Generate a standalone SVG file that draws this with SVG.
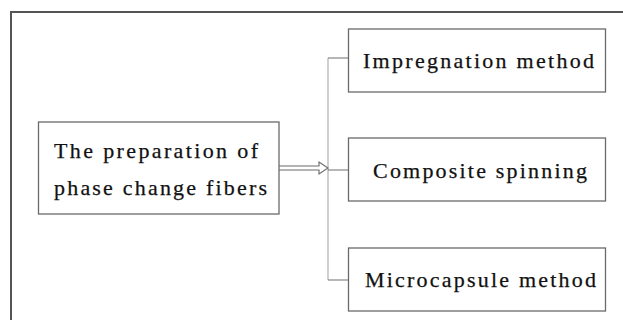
<svg xmlns="http://www.w3.org/2000/svg" width="623" height="320" viewBox="0 0 623 320">
<style>
.box{fill:#fff;stroke:#6a6a6a;stroke-width:1.3}
.t{font-family:"Liberation Serif","Times New Roman",serif;font-size:22px;fill:#111;stroke:#111;stroke-width:0.25}
.br{fill:none;stroke:#6e6e6e;stroke-width:1.2}
.vl{fill:none;stroke:#b0b0b0;stroke-width:1.2}
</style>
<rect x="0" y="0" width="623" height="320" fill="#fff"/>
<rect x="11" y="12" width="700" height="400" fill="none" stroke="#555" stroke-width="2"/>
<g id="connectors">
<path class="vl" d="M328,58 V280"/>
<path class="br" d="M328,58 H348 M328,170 H348 M328,280 H348"/>
<path d="M279,166 H319 V162 L328,168 L319,174 V170 H279" fill="#fff" stroke="#6a6a6a" stroke-width="1.1"/>
</g>
<g id="source">
<rect class="box" x="38.5" y="122" width="240.5" height="92"/>
<text class="t" x="54" y="158" textLength="204" lengthAdjust="spacing">The preparation of</text>
<text class="t" x="54" y="195" textLength="213" lengthAdjust="spacing">phase change fibers</text>
</g>
<g id="impregnation">
<rect class="box" x="348.5" y="29" width="257" height="63"/>
<text class="t" x="363" y="68" textLength="231" lengthAdjust="spacing">Impregnation method</text>
</g>
<g id="composite">
<rect class="box" x="348.5" y="138" width="257" height="63"/>
<text class="t" x="373" y="178" textLength="214" lengthAdjust="spacing">Composite spinning</text>
</g>
<g id="microcapsule">
<rect class="box" x="348.5" y="248" width="257" height="63"/>
<text class="t" x="365" y="287" textLength="231" lengthAdjust="spacing">Microcapsule method</text>
</g>
</svg>
